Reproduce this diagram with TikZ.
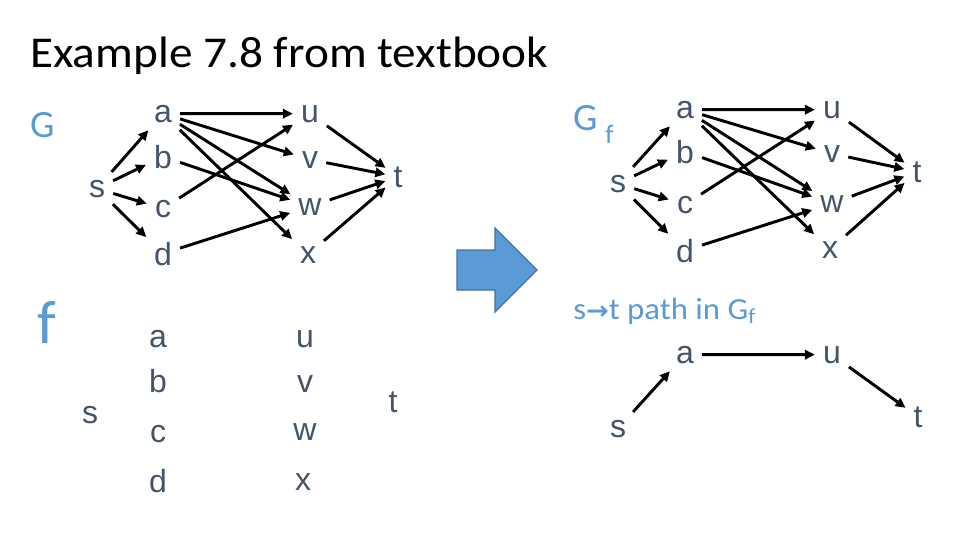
\documentclass[tikz,border=0pt]{standalone}
\usepackage{fontspec}
\setmainfont{Carlito}
\newfontfamily\arialf{Liberation Sans}
\newfontfamily\dejavu{DejaVu Sans}
\usetikzlibrary{arrows.meta}
\definecolor{slate}{HTML}{44546A}
\definecolor{accblue}{HTML}{5B9BD5}
\definecolor{accdark}{HTML}{41719C}
\tikzset{
  lt/.style={anchor=base, inner sep=5pt, text=slate, font=\arialf\fontsize{24}{28}\selectfont},
  edge/.style={line width=2.2pt, -{Triangle[length=7.5pt,width=7pt]}, shorten >=1pt, shorten <=1pt},
  bluelab/.style={anchor=base west, inner sep=0pt, text=accblue},
  bigarrow/.style={fill=accblue, draw=accdark, line width=1pt, line join=miter}
}
\begin{document}
\begin{tikzpicture}[x=0.75pt,y=-0.75pt]
\useasboundingbox (0,0) rectangle (960,540);
% title
\node[anchor=base west, inner sep=0pt, font=\fontsize{33}{38}\selectfont] (title) at (30,67) {\scalebox{1.075}[1]{Example 7.8 from textbook}};
% ---------- G ----------
\node[bluelab, font=\fontsize{29}{34}\selectfont] (Glab) at (30,137) {G};
\node[lt] (s1) at (97,197) {s};
\node[lt] (a1) at (163,122) {a};
\node[lt] (b1) at (163,168) {b};
\node[lt] (c1) at (163,217) {c};
\node[lt] (d1) at (163,265) {d};
\node[lt] (u1) at (310,122) {u};
\node[lt] (v1) at (310,168) {v};
\node[lt] (w1) at (310,215) {w};
\node[lt] (x1) at (308,263) {x};
\node[lt] (t1) at (398,187) {t};
\foreach \p/\q in {s1/a1,s1/b1,s1/c1,s1/d1,a1/u1,a1/v1,a1/w1,a1/x1,b1/w1,c1/u1,d1/w1,u1/t1,v1/t1,w1/t1,x1/t1}
  \draw[edge] (\p) -- (\q);
% ---------- Gf ----------
\node[bluelab, font=\fontsize{29}{34}\selectfont] (Gflab) at (573,130) {G};
\node[bluelab, font=\fontsize{20}{24}\selectfont] (Gfsub) at (605,143) {f};
\node[lt] (s2) at (618,192) {s};
\node[lt] (a2) at (685,118) {a};
\node[lt] (b2) at (685,163) {b};
\node[lt] (c2) at (685,213) {c};
\node[lt] (d2) at (685,262) {d};
\node[lt] (u2) at (832,118) {u};
\node[lt] (v2) at (832,162) {v};
\node[lt] (w2) at (832,212) {w};
\node[lt] (x2) at (830,258) {x};
\node[lt] (t2) at (917,182) {t};
\foreach \p/\q in {s2/a2,s2/b2,s2/c2,s2/d2,a2/u2,a2/v2,a2/w2,a2/x2,b2/w2,c2/u2,d2/w2,u2/t2,v2/t2,w2/t2,x2/t2}
  \draw[edge] (\p) -- (\q);
% ---------- f ----------
\node[bluelab, font=\fontsize{46}{50}\selectfont] (flab) at (37,343) {f};
\node[lt] (s3) at (90,423) {s};
\node[lt] (a3) at (158,347) {a};
\node[lt] (b3) at (158,392) {b};
\node[lt] (c3) at (158,442) {c};
\node[lt] (d3) at (158,492) {d};
\node[lt] (u3) at (305,347) {u};
\node[lt] (v3) at (305,392) {v};
\node[lt] (w3) at (305,440) {w};
\node[lt] (x3) at (303,490) {x};
\node[lt] (t3) at (393,412) {t};
% ---------- path ----------
\node[bluelab, font=\fontsize{23}{27}\selectfont] (plab) at (573,319) {\scalebox{1.07}[1]{s{\dejavu\bfseries\fontsize{19}{22}\selectfont →}t path in G\textsubscript{f}}};
\node[lt] (s4) at (618,437) {s};
\node[lt] (a4) at (685,363) {a};
\node[lt] (u4) at (832,363) {u};
\node[lt] (t4) at (918,427) {t};
\draw[edge] (s4) -- (a4);
\draw[edge] (a4) -- (u4);
\draw[edge] (u4) -- (t4);
% big arrow
\draw[bigarrow] (457,250) -- (495,250) -- (495,228) -- (537,270) -- (495,312) -- (495,290) -- (457,290) -- cycle;
\end{tikzpicture}
\end{document}
